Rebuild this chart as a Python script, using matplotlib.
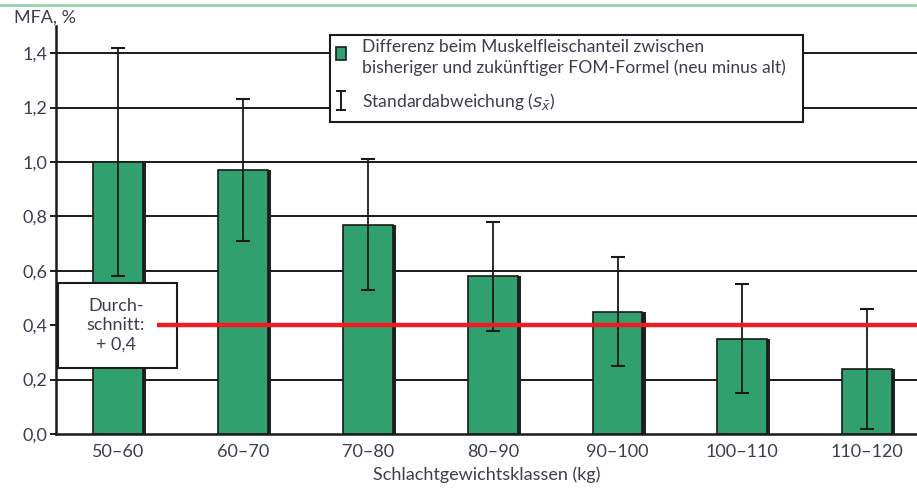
import matplotlib.pyplot as plt
from matplotlib.patches import Rectangle
from matplotlib.lines import Line2D

# data
klassen = ['50–60', '60–70', '70–80', '80–90', '90–100', '100–110', '110–120']
differenz = [1.00, 0.97, 0.77, 0.58, 0.45, 0.35, 0.24]
std_abw = [0.42, 0.26, 0.24, 0.20, 0.20, 0.20, 0.22]
durchschnitt = 0.4
yticks = [0.0, 0.2, 0.4, 0.6, 0.8, 1.0, 1.2, 1.4]
ytick_labels = ['0,0', '0,2', '0,4', '0,6', '0,8', '1,0', '1,2', '1,4']

green = '#31a06f'
txt = '#3d3d4d'
plt.rcParams['font.family'] = ['Lato', 'DejaVu Sans']

W, H = 917, 493
fig = plt.figure(figsize=(W / 100, H / 100), dpi=100)
ax = fig.add_axes([56 / W, 1 - 434 / H, (W - 56) / W, (434 - 26) / H])

x = list(range(len(klassen)))
# bar shadow + bars
ax.bar([i + 0.025 for i in x], differenz, width=0.4, color='#222222', zorder=2)
ax.bar(x, differenz, width=0.4, color=green, edgecolor='#1a1a1a', linewidth=1.2, zorder=3)
ax.errorbar(x, differenz, yerr=std_abw, fmt='none', ecolor='#1a1a1a', elinewidth=1.3,
            capsize=5, capthick=1.5, zorder=4)

for y in yticks[1:]:
    ax.axhline(y, color='#1a1a1a', lw=1.4, zorder=1)

ax.set_xlim(-0.5, 6.4)
ax.set_ylim(0, 1.5)
ax.set_yticks(yticks)
ax.set_yticklabels(ytick_labels, color=txt, fontsize=13)
ax.set_xticks(x)
ax.set_xticklabels(klassen, color=txt, fontsize=13)
ax.tick_params(axis='x', length=0, pad=7)
ax.tick_params(axis='y', length=4, width=1.4, pad=2, color='#1a1a1a')
for s in ['top', 'right']:
    ax.spines[s].set_visible(False)
for s in ['left', 'bottom']:
    ax.spines[s].set_linewidth(1.8)
    ax.spines[s].set_color('#1a1a1a')
ax.set_xlabel('Schlachtgewichtsklassen (kg)', color=txt, fontsize=13, labelpad=5)

# Durchschnitt box and red line
ax.add_patch(Rectangle((-0.485, 0.243), 0.955, 0.312, facecolor='white',
                       edgecolor='#1a1a1a', lw=1.5, zorder=5))
ax.text(-0.02, 0.40, 'Durch-\nschnitt:\n+ 0,4', ha='center', va='center',
        color=txt, fontsize=13, linespacing=1.25, zorder=6)
ax.plot([0.31, 6.4], [durchschnitt, durchschnitt], color='#ee1c25', lw=3.2,
        solid_capstyle='butt', zorder=7, clip_on=False)

# legend box
def fx(px):
    return px / W


def fy(py):
    return 1 - py / H


fig.patches.append(Rectangle((fx(330), fy(122)), fx(803) - fx(330), fy(35) - fy(122),
                             transform=fig.transFigure, facecolor='white',
                             edgecolor='#1a1a1a', lw=1.5, zorder=10))
fig.patches.append(Rectangle((fx(336), fy(60)), fx(346) - fx(336), fy(47) - fy(60),
                             transform=fig.transFigure, facecolor=green,
                             edgecolor='#1a1a1a', lw=1.2, zorder=11))
fig.lines.append(Line2D([fx(341), fx(341)], [fy(91), fy(110)], transform=fig.transFigure,
                        color='#1a1a1a', lw=1.4, zorder=11))
for yy in (91, 110):
    fig.lines.append(Line2D([fx(337), fx(345)], [fy(yy), fy(yy)], transform=fig.transFigure,
                            color='#1a1a1a', lw=1.4, zorder=11))
fig.text(fx(362), fy(47), 'Differenz beim Muskelfleischanteil zwischen', va='center',
         color=txt, fontsize=12.6, zorder=12)
fig.text(fx(362), fy(68), 'bisheriger und zukünftiger FOM-Formel (neu minus alt)', va='center',
         color=txt, fontsize=12.6, zorder=12)
fig.text(fx(362), fy(102), r'Standardabweichung ($s_{\bar{x}}$)', va='center',
         color=txt, fontsize=12.6, zorder=12)

fig.text(fx(14), fy(18), 'MFA, %', va='center', color=txt, fontsize=13)
fig.lines.append(Line2D([0, 1], [fy(5), fy(5)], transform=fig.transFigure,
                        color='#8fd4a8', lw=2))

fig.savefig('out.png', dpi=100)
